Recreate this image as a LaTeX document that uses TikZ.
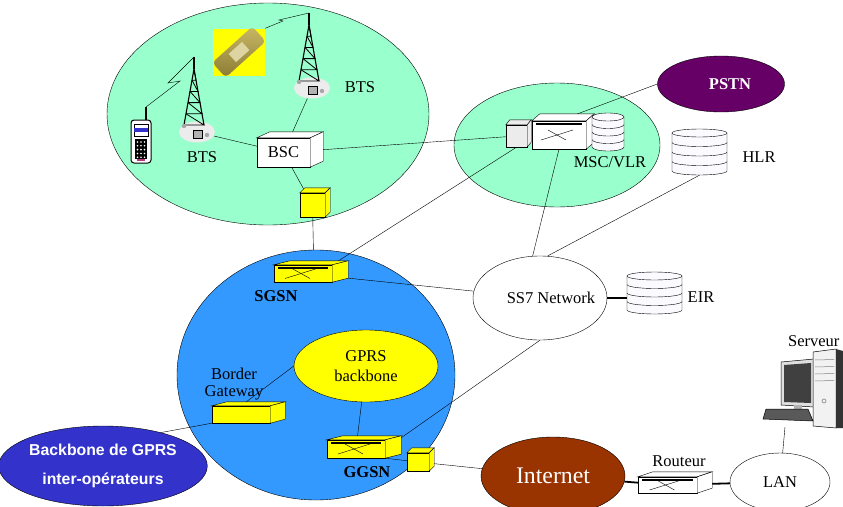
\documentclass[tikz,border=0pt]{standalone}
\usepackage{fontspec}
\setmainfont{Liberation Serif}
\newfontfamily\arial{Liberation Sans}
\usetikzlibrary{shapes.geometric,calc}

\definecolor{menthe}{HTML}{99FFCC}
\definecolor{ciel}{HTML}{3399FF}
\definecolor{jaune}{HTML}{FFFF00}
\definecolor{prune}{HTML}{660066}
\definecolor{brique}{HTML}{993300}
\definecolor{indigo}{HTML}{3333CC}
\definecolor{disque}{HTML}{FAFAFF}
\definecolor{laiton}{HTML}{C8B864}
\definecolor{bronze}{HTML}{8C7C34}

\pgfdeclarelayer{fond}
\pgfdeclarelayer{liens}
\pgfsetlayers{fond,liens,main}

\newcommand{\Caisse}[7]{%
    \node[draw, fill=#6, minimum width=#3pt, minimum height=#4pt, inner sep=0] (#1) at (#2) {#7};
    \filldraw[fill=#6] (#1.north west) -- ++(#5) -- ($(#1.north east)+(#5)$) -- (#1.north east) -- cycle;
    \filldraw[fill=#6] (#1.north east) -- ++(#5) -- ($(#1.south east)+(#5)$) -- (#1.south east) -- cycle;
}
\newcommand{\Commut}[1]{%
    \draw[line width=1.8pt] ($(#1.north west)+(4,3)$) -- ($(#1.north east)+(-4,3)$);
    \draw ($(#1.center)+(-18,5)$) -- ($(#1.center)+(14,-5)$);
    \draw ($(#1.center)+(-11,-5)$) -- ($(#1.center)+(7,5)$);
}
\newcommand{\Base}[6]{%
    \pgfmathsetmacro\basY{#3+#5*#6}
    \pgfmathsetmacro\hauteur{#5*#6+8}
    \pgfmathtruncatemacro\nb{#5-1}
    \node[inner sep=0, minimum width=2*#4pt, minimum height=\hauteur pt] (#1) at (#2,#3+#5*#6/2) {};
    \filldraw[fill=disque] (#2-#4,#3) -- (#2-#4,\basY) arc[start angle=180, end angle=0, x radius=#4, y radius=4]
        -- (#2+#4,#3) arc[start angle=0, end angle=-180, x radius=#4, y radius=4] -- cycle;
    \foreach \k in {0,...,\nb}
        \draw (#2+#4,#3+\k*#6) arc[start angle=0, end angle=180, x radius=#4, y radius=4];
}
\newcommand{\Pylone}[3]{%
    \node[ellipse, fill=gray!15, minimum width=36pt, minimum height=21pt, inner sep=0] (#1) at (#2,#3) {};
    \coordinate (#1-sommet) at (#2-3,#3-75);
    \begin{scope}[shift={(#2,#3)}, line width=1.1pt]
        \draw (-3,-75) -- (-3,-63);
        \draw (-13,-7) -- (-3,-63) -- (7,-7);
        \foreach \t in {0.2,0.4,0.6,0.8,1}
            \draw[line width=0.8pt] (-3-10*\t,-63+56*\t) -- (-3+10*\t,-63+56*\t) -- (-1-10*\t,-74.2+56*\t);
        \filldraw[fill=gray!60, line width=0.5pt] (-4,-2) rectangle (5,6);
        \fill[gray!70] (-13,-6) circle[radius=2.2] (10,3) circle[radius=2.2];
    \end{scope}
}

\begin{document}
\begin{tikzpicture}[x=1pt, y=-1pt, line width=1pt, font=\fontsize{16.5}{18}\selectfont]
    \tikzset{zone/.style = {draw, ellipse, inner sep=0}}
    \tikzset{gras/.style = {font=\fontsize{16.5}{18}\selectfont\bfseries}}
    \tikzset{epais/.style = {line width=1.8pt}}
    \useasboundingbox (0,0) rectangle (843,506);

    \begin{pgfonlayer}{fond}
        \node[zone, fill=menthe, minimum width=322pt, minimum height=222pt] (bss) at (268,114) {};
        \node[zone, fill=menthe, minimum width=206pt, minimum height=124pt] (nss) at (557,145) {};
        \node[zone, fill=ciel, minimum width=278pt, minimum height=250pt] (gprs) at (316,375) {};
    \end{pgfonlayer}

    \node[zone, fill=prune, minimum width=127pt, minimum height=56pt] (pstn) at (721,84) {};
    \node[gras, text=white] at (730,84) {PSTN};
    \node[zone, fill=white, minimum width=134pt, minimum height=84pt] (ss7) at (540,298) {};
    \node at (551,298) {SS7 Network};
    \node[zone, fill=brique, text=white, font=\fontsize{23.8}{26}\selectfont, minimum width=144pt, minimum height=78pt] (internet) at (553,476) {Internet};
    \node[zone, fill=white, minimum width=100pt, minimum height=58pt] (lan) at (780,482) {LAN};
    \node[zone, fill=indigo, text=white, align=center, font=\arial\bfseries\fontsize{15.8}{29}\selectfont, minimum width=190pt, minimum height=80pt] (inter) at (103,466) {Backbone de GPRS\\inter-opérateurs};
    \node[zone, fill=jaune, align=center, font=\fontsize{16.5}{20}\selectfont, minimum width=144pt, minimum height=72pt] (gbb) at (366,366) {GPRS\\backbone};

    \Pylone{btsA}{197}{132}
    \Pylone{btsB}{312}{88}
    \node at (202,157) {BTS};
    \node at (360,87) {BTS};

    \node[draw, fill=white, rounded corners=3pt, line width=1pt, minimum width=20pt, minimum height=43pt, inner sep=0] (tel) at (141,141.5) {};
    \filldraw[fill=white, line width=0.5pt] (134,124) rectangle (148,136);
    \fill[indigo] (134,128) rectangle (148,132);
    \fill[black] (135,139) rectangle (147,159);
    \foreach \i in {0,1,2}
        \foreach \j in {0,...,4}
            \fill[white] (137.5+3.5*\i,142+3.8*\j) circle[radius=0.9];
    \fill[magenta!70!black] (137,159) rectangle (145,161);
    \coordinate (antenne) at (146,107);
    \draw[line width=1.3pt] (antenne) -- (146,120);
    \draw (antenne) -- (180,81) -- (168,83) -- (btsA-sommet);

    \node[fill=jaune, minimum width=52pt, minimum height=47pt, inner sep=0] (pda) at (239,52) {};
    \node[rotate=42, rounded corners=4pt, top color=laiton, bottom color=bronze, minimum width=54pt, minimum height=20pt, inner sep=0] (appareil) at (pda) {};
    \node[rotate=42, fill=laiton!60!white, minimum width=18pt, minimum height=11pt, inner sep=0] at (pda) {};
    \draw (pda.north east) -- (283,21) -- (279,20) -- (btsB-sommet);

    \Caisse{bsc}{283.5,152.5}{53}{29}{13,-6}{white}{BSC}
    \Caisse{cubeA}{312.5,205}{25}{24}{5,-5}{jaune}{}

    \Caisse{mscA}{516.5,136}{21}{22}{4,-5}{gray!15}{}
    \Caisse{msc}{559,135}{54}{28}{8,-7}{white}{}
    \Commut{msc}
    \Base{vlr}{608}{117}{16}{4}{7.5}
    \node at (610,162) {MSC/VLR};
    \Base{hlr}{699.5}{133}{27.5}{4}{9.5}
    \node at (759,157) {HLR};
    \Base{eir}{654.5}{276}{27.5}{4}{8.5}
    \node at (701,297) {EIR};

    \Caisse{sgsn}{303,273.5}{58}{17}{16,-4}{jaune}{}
    \Commut{sgsn}
    \node[gras] at (276,296) {SGSN};
    \Caisse{ggsn}{356,449}{58}{18}{16,-4}{jaune}{}
    \Commut{ggsn}
    \node[gras] at (367,472) {GGSN};
    \Caisse{cubeB}{418,462}{22}{18}{5,-5}{jaune}{}
    \Caisse{bg}{241,414.5}{58}{17}{15,-4}{jaune}{}
    \node[align=center, font=\fontsize{16.5}{17}\selectfont] at (234,384) {Border\\Gateway};

    \Caisse{routeur}{667.5,485}{59}{16}{15,-5}{white}{}
    \Commut{routeur}
    \node at (679,461) {Routeur};

    \filldraw[fill=gray!25, line width=0.5pt] (781,362) -- (814,359) -- (814,407) -- (781,405) -- cycle;
    \fill[black!75] (784,365) -- (811,363) -- (811,403) -- (784,402) -- cycle;
    \fill[gray!60] (794,405) rectangle (802,410);
    \filldraw[fill=gray!10, line width=0.5pt] (813,352) -- (836,349) -- (836,428) -- (813,426) -- cycle;
    \fill[black!80] (836,349) -- (843,351) -- (843,428) -- (836,428) -- cycle;
    \foreach \yy in {360,367,374,381}
        \draw[gray, line width=0.5pt] (815,\yy) -- (834,\yy-0.5);
    \draw[gray, line width=0.6pt] (824,401) circle[radius=2];
    \filldraw[fill=gray!70!black, line width=0.5pt] (766,409) -- (808,409) -- (813,421) -- (763,419) -- cycle;
    \coordinate (pc) at (785,427);
    \node[anchor=east] at (843,341) {Serveur};

    \begin{pgfonlayer}{liens}
        \draw (btsA) -- (bsc);
        \draw (btsB) -- (bsc);
        \draw (bsc) -- (mscA);
        \draw (bsc) -- (cubeA);
        \draw (cubeA) -- (gprs);
        \draw (sgsn.north east) -- (mscA.south);
        \draw (sgsn) -- (ss7);
        \draw (msc.south) -- (ss7.100);
        \draw (hlr.south) -- (ss7.80);
        \draw (pstn.west) -- (msc.north);
        \draw[epais] (ss7.east) -- (ss7.east -| eir.west);
        \draw (ss7.south) -- (ggsn.east);
        \draw (gbb) -- (ggsn);
        \draw (gbb.west) -- (bg.north);
        \draw (bg.south west) -- (inter.30);
        \draw (ggsn.south east) -- (cubeB);
        \draw (cubeB) -- (internet);
        \draw[epais] (internet) -- (routeur);
        \draw[epais] (routeur) -- (lan);
        \draw (lan) -- (pc);
    \end{pgfonlayer}
\end{tikzpicture}
\end{document}
